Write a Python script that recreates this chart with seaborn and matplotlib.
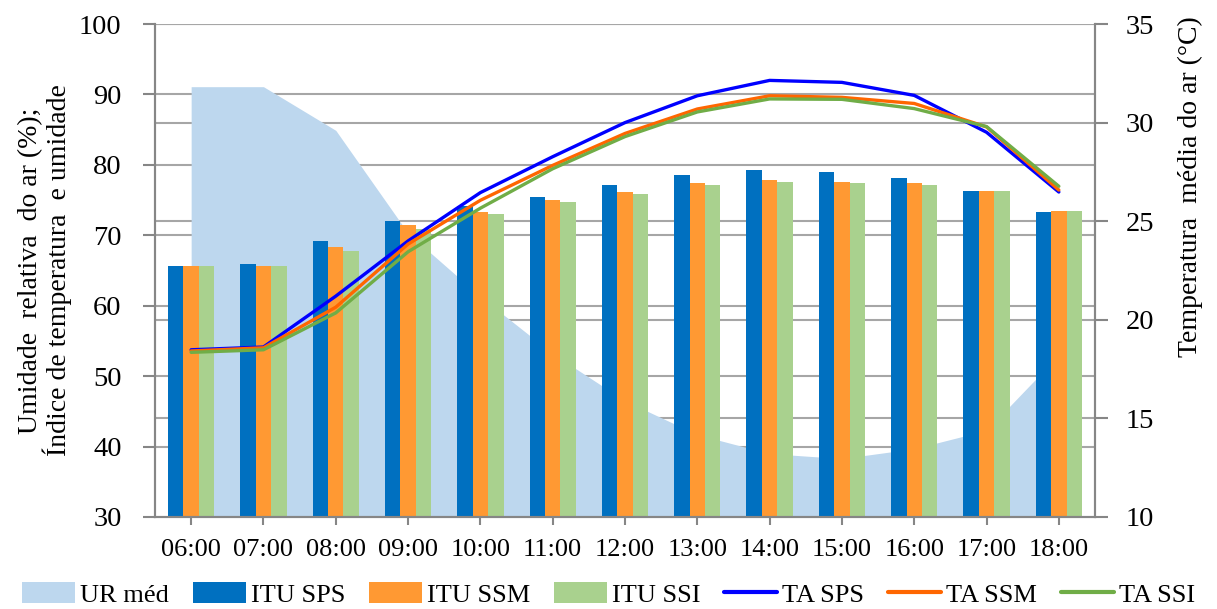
import numpy as np
import pandas as pd
import matplotlib
matplotlib.use("Agg")
import matplotlib.pyplot as plt
from matplotlib.patches import Patch
from matplotlib.lines import Line2D
import seaborn as sns

# ---- data -----------------------------------------------------------------
horas = ["06:00", "07:00", "08:00", "09:00", "10:00", "11:00", "12:00",
         "13:00", "14:00", "15:00", "16:00", "17:00", "18:00"]

ur_med = [91.1, 91.1, 84.9, 70.3, 61.3, 53.2, 46.5, 41.7, 39.0, 38.3, 39.7, 42.3, 53.0]

itu_sps = [65.6, 65.9, 69.2, 72.0, 74.2, 75.5, 77.1, 78.5, 79.3, 79.0, 78.2, 76.3, 73.3]
itu_ssm = [65.6, 65.6, 68.4, 71.4, 73.3, 75.0, 76.1, 77.4, 77.9, 77.6, 77.4, 76.3, 73.5]
itu_ssi = [65.6, 65.6, 67.8, 70.9, 73.0, 74.7, 75.8, 77.1, 77.6, 77.4, 77.1, 76.3, 73.5]

ta_sps = [18.48, 18.62, 21.2, 24.0, 26.45, 28.27, 30.0, 31.36, 32.14, 32.04, 31.38, 29.51, 26.48]
ta_ssm = [18.42, 18.58, 20.64, 23.84, 26.06, 27.83, 29.45, 30.69, 31.36, 31.28, 30.97, 29.78, 26.58]
ta_ssi = [18.35, 18.48, 20.35, 23.45, 25.66, 27.66, 29.29, 30.54, 31.2, 31.18, 30.71, 29.8, 26.77]

itu_nomes = ["ITU SPS", "ITU SSM", "ITU SSI"]
ta_nomes = ["TA SPS", "TA SSM", "TA SSI"]

# ---- style ----------------------------------------------------------------
sns.set_theme(style="white")
plt.rcParams["font.family"] = ["Liberation Serif", "DejaVu Serif"]
plt.rcParams["text.color"] = "black"
plt.rcParams["axes.labelcolor"] = "black"

cor_ur = "#BDD7EE"
cores_itu = ["#0070C0", "#FF9933", "#A9D18E"]
cores_ta = ["#0000FF", "#FF6600", "#70AD47"]
cor_grade = "#A6A6A6"
cor_eixo = "#868686"

# ---- long-form tables ------------------------------------------------------
df_itu = pd.DataFrame({
    "hora": horas * 3,
    "valor": itu_sps + itu_ssm + itu_ssi,
    "serie": np.repeat(itu_nomes, len(horas)),
})
pos = np.arange(len(horas))
df_ta = pd.DataFrame({
    "pos": np.tile(pos, 3),
    "valor": ta_sps + ta_ssm + ta_ssi,
    "serie": np.repeat(ta_nomes, len(horas)),
})

fig, ax = plt.subplots(figsize=(12.17, 6.09), dpi=100)
fig.subplots_adjust(left=155 / 1217, right=1095 / 1217,
                    top=1 - 24 / 609, bottom=1 - 517 / 609)

esq_lim = (30, 100)
dir_lim = (10, 35)

# gridlines of both value axes, drawn underneath everything
for v in np.arange(40, 101, 10):
    ax.axhline(v, color=cor_grade, lw=1.5, zorder=0.3)
for v in np.arange(15, 36, 5):
    v_esq = esq_lim[0] + (v - dir_lim[0]) * (esq_lim[1] - esq_lim[0]) / (dir_lim[1] - dir_lim[0])
    ax.axhline(v_esq, color=cor_grade, lw=1.5, zorder=0.3)

# relative humidity area
ax.fill_between(pos, esq_lim[0], ur_med, color=cor_ur, lw=0, zorder=1)

# ITU bars
sns.barplot(data=df_itu, x="hora", y="valor", hue="serie", order=horas,
            hue_order=itu_nomes, palette=cores_itu, saturation=1,
            width=0.64, gap=0, linewidth=0, legend=False, ax=ax, zorder=2)

ax.set_xlim(-0.5, len(horas) - 0.5)
ax.set_ylim(*esq_lim)
ax.set_yticks(np.arange(30, 101, 10))
ax.set_xlabel("")
ax.set_ylabel("Umidade  relativa  do ar (%);\nÍndice de temperatura  e umidade",
              fontsize=20, linespacing=1.0, color="black")
ax.yaxis.set_label_coords(-0.088, 0.5)

# air temperature lines on the secondary axis
ax2 = ax.twinx()
sns.lineplot(data=df_ta, x="pos", y="valor", hue="serie", hue_order=ta_nomes,
             palette=cores_ta, linewidth=2.4, sort=False, errorbar=None,
             legend=False, ax=ax2)
ax2.set_ylim(*dir_lim)
ax2.set_yticks(np.arange(10, 36, 5))
ax2.set_xlim(-0.5, len(horas) - 0.5)
ax2.set_xlabel("")
ax2.set_ylabel("Temperatura  média do ar (°C)", fontsize=20, color="black")
ax2.yaxis.set_label_coords(1.088, 0.67)
ax2.grid(False)
ax.grid(False)

# axes frame and ticks
for a in (ax, ax2):
    a.spines["top"].set_visible(False)
    for s in ("left", "right", "bottom"):
        a.spines[s].set_color(cor_eixo)
        a.spines[s].set_linewidth(1.5)
ax.tick_params(axis="y", which="major", left=True, length=9, width=1.5,
               color=cor_eixo, labelcolor="black", labelsize=20.5, pad=15)
ax.tick_params(axis="x", which="major", bottom=True, length=6, width=1.5,
               color=cor_eixo, labelcolor="black", labelsize=19, pad=10)
ax2.tick_params(axis="y", which="major", right=True, length=9, width=1.5,
                color=cor_eixo, labelcolor="black", labelsize=20.5, pad=13)
ax2.tick_params(axis="x", bottom=False, labelbottom=False)

# legend across the bottom
handles = [Patch(facecolor=cor_ur, edgecolor="none", label="UR méd")]
handles += [Patch(facecolor=c, edgecolor="none", label=n) for c, n in zip(cores_itu, itu_nomes)]
handles += [Line2D([], [], color=c, lw=3, label=n) for c, n in zip(cores_ta, ta_nomes)]
leg = fig.legend(handles=handles, loc="lower center", bbox_to_anchor=(0.5, -0.035),
                 ncol=7, frameon=False, fontsize=19, handlelength=2.0,
                 handleheight=0.9, handletextpad=0.2, columnspacing=0.9)
for t in leg.get_texts():
    t.set_color("black")

fig.savefig("out.png", dpi=100)
